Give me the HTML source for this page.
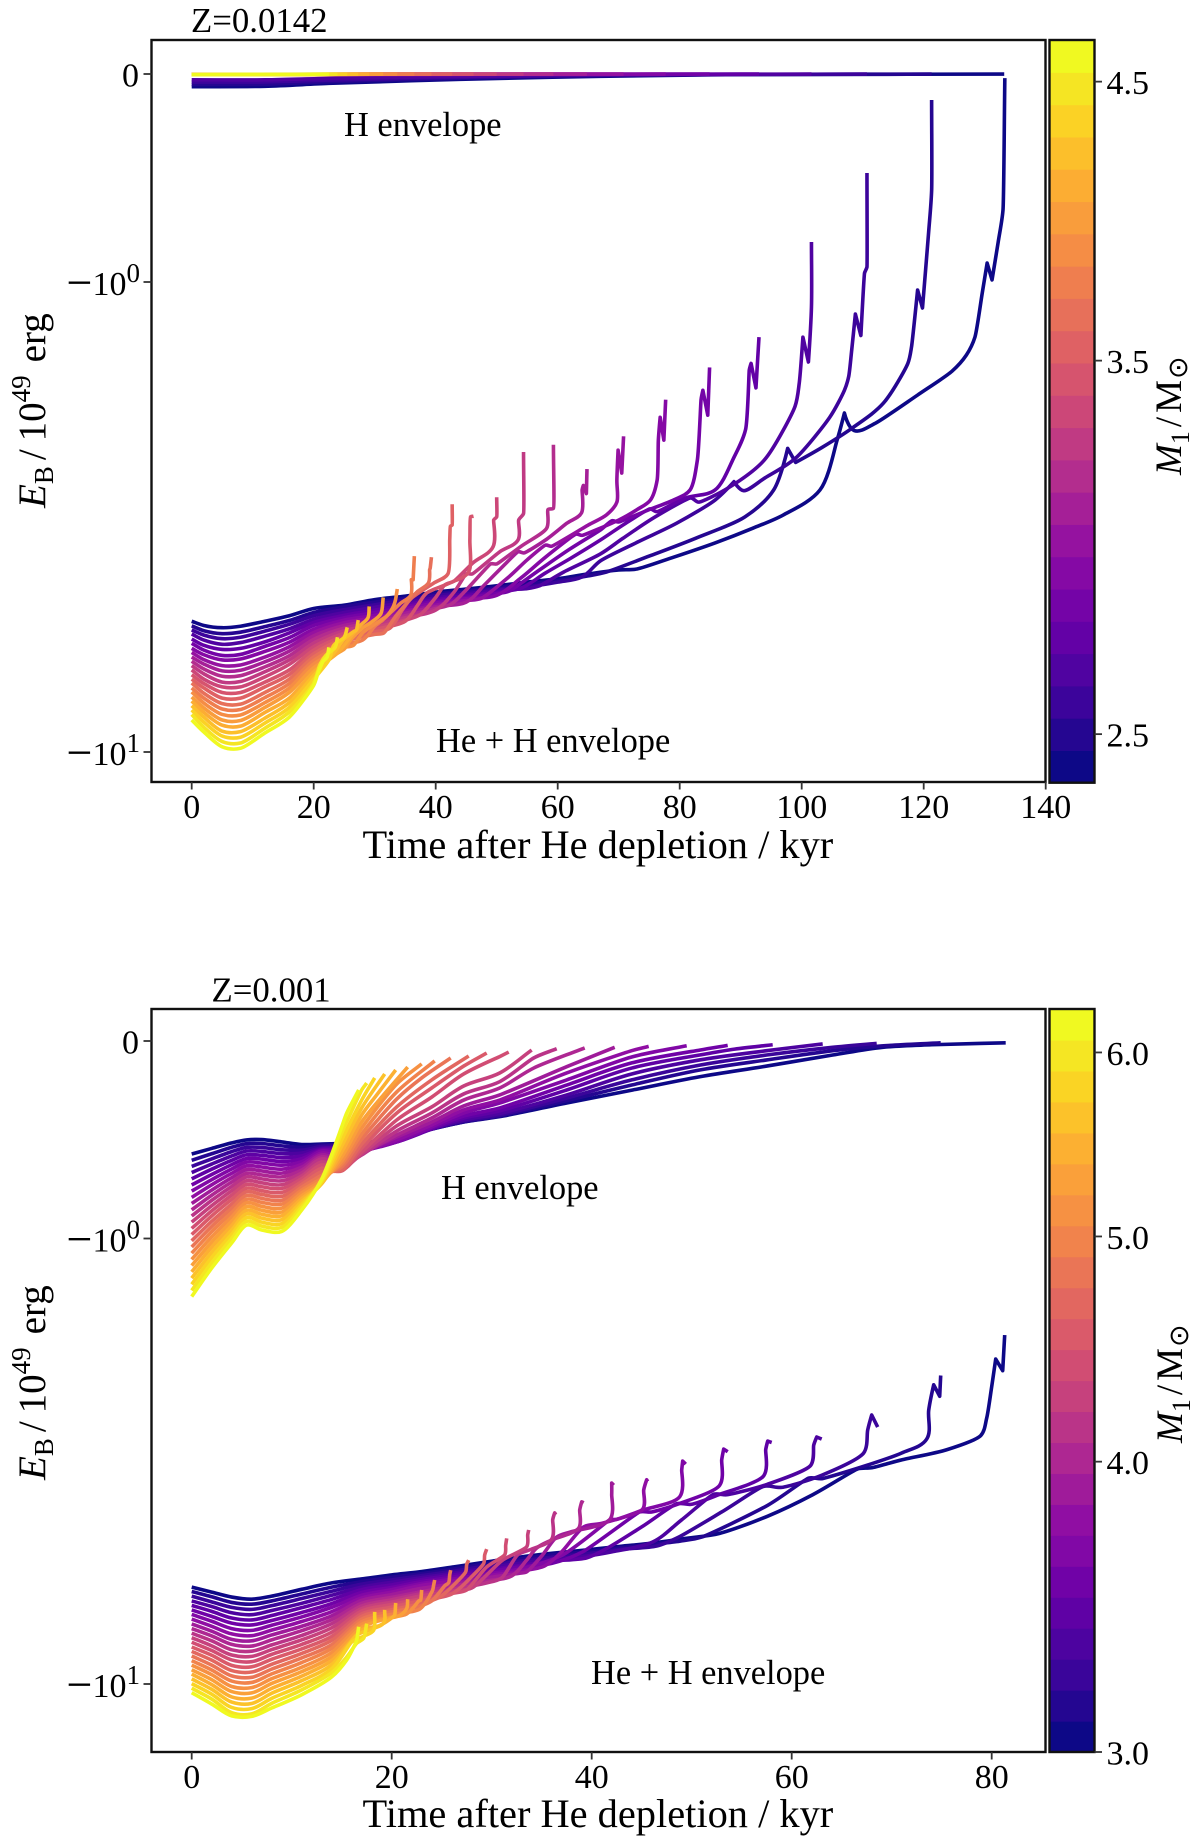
<!DOCTYPE html>
<html lang="en">
<head>
<meta charset="utf-8">
<title>Envelope binding energy after He depletion</title>
<style>
html,body{margin:0;padding:0;background:#fff;}
svg{display:block;}
text{font-family:"Liberation Serif","DejaVu Serif",serif;fill:#000;}
</style>
</head>
<body>
<svg id="figure" xmlns="http://www.w3.org/2000/svg" width="1200" height="1846" viewBox="0 0 1200 1846">
  <rect x="0" y="0" width="1200" height="1846" fill="#fff"/>

  <g id="panel-top">
    <g id="top-curves"></g>
    <rect x="151.5" y="40" width="894" height="742" fill="none" stroke="#111" stroke-width="2.4"/>
    <g id="top-ticks"></g>
    <text x="191" y="32" font-size="34.8">Z=0.0142</text>
    <text x="344" y="136" font-size="34.4">H envelope</text>
    <text x="436" y="752" font-size="34.4">He + H envelope</text>
    <text x="362.5" y="858" font-size="40.4">Time after He depletion / kyr</text>
    <text transform="translate(45,508) rotate(-90)" font-size="39"><tspan font-style="italic">E</tspan><tspan dy="8" font-size="27">B</tspan><tspan dy="-8" dx="6">/</tspan><tspan dx="8">10</tspan><tspan dy="-15" font-size="27">49</tspan><tspan dy="15" dx="13">erg</tspan></text>
    <g id="top-colorbar"></g>
    <text transform="translate(1181,475) rotate(-90)" font-size="37"><tspan font-style="italic">M</tspan><tspan dy="8" font-size="26">1</tspan><tspan dy="-8" dx="4">/</tspan><tspan dx="4">M</tspan><tspan dy="6" dx="1" font-size="27" style="font-family:'DejaVu Sans',sans-serif">⊙</tspan></text>
  </g>

  <g id="panel-bottom">
    <g id="bottom-curves"></g>
    <rect x="151.5" y="1009" width="894" height="743" fill="none" stroke="#111" stroke-width="2.4"/>
    <g id="bottom-ticks"></g>
    <text x="211.5" y="1001.5" font-size="34.8">Z=0.001</text>
    <text x="441" y="1199" font-size="34.4">H envelope</text>
    <text x="591" y="1684" font-size="34.4">He + H envelope</text>
    <text x="362.5" y="1827" font-size="40.4">Time after He depletion / kyr</text>
    <text transform="translate(45,1480) rotate(-90)" font-size="39"><tspan font-style="italic">E</tspan><tspan dy="8" font-size="27">B</tspan><tspan dy="-8" dx="6">/</tspan><tspan dx="8">10</tspan><tspan dy="-15" font-size="27">49</tspan><tspan dy="15" dx="13">erg</tspan></text>
    <g id="bottom-colorbar"></g>
    <text transform="translate(1182,1443) rotate(-90)" font-size="37"><tspan font-style="italic">M</tspan><tspan dy="8" font-size="26">1</tspan><tspan dy="-8" dx="4">/</tspan><tspan dx="4">M</tspan><tspan dy="6" dx="1" font-size="27" style="font-family:'DejaVu Sans',sans-serif">⊙</tspan></text>
  </g>
</svg>

<script>
/* ---------- tick data ---------- */
const topXTicks = [0,20,40,60,80,100,120,140];
const bottomXTicks = [0,20,40,60,80];
const energyTicks = [0,1,10];
const energyExponents = ['', '0', '1'];
const topMassTicks = [2.5,3.5,4.5];
const topMassTickLabels = ['2.5','3.5','4.5'];
const bottomMassTicks = [3,4,5,6];
const bottomMassTickLabels = ['3.0','4.0','5.0','6.0'];
const topMassLimits = [2.393,4.672];
const bottomMassLimits = [3.0,6.264];
const topBandCount = 23;
const bottomBandCount = 24;
const plasmaStops = ['#0d0887','#41049d','#6a00a8','#8f0da4','#b12a90','#cc4778','#e16462','#f2844b','#fca636','#fcce25','#f0f921'];

/* ---------- Z=0.0142, H envelope: time (kyr), |E_B| (10^49 erg) ---------- */
const topHTimes = [
[0,12,22.5,44,67,90,133.2],[0,12,22.5,44,67,90,121.3],[0,12,22.5,44,67,90,110.7],[0,12,22.5,44,67,90,101.6],
[0,93],[0,84.9],[0,77.7],[0,70.8],[0,64.8],[0,59.3],[0,54.4],[0,50],[0,46.2],[0,42.7],[0,39.3],[0,36.5],[0,33.7],[0,31.4],[0,29.1],[0,27.3],[0,25.5],[0,23.9],[0,22.5]
];
const topHEnergy = [
[.061,.059,.045,.0255,.011,.003,.0005],[.05,.049,.037,.02,.008,.002,.0005],[.039,.038,.029,.016,.006,.002,.0005],[.028,.028,.021,.012,.004,.001,.0005],
[.002,.0005],[.002,.0005],[.002,.0005],[.002,.0005],[.002,.0005],[.002,.0005],[.002,.0005],[.002,.0005],[.002,.0005],[.002,.0005],[.003,.0005],[.003,.0005],[.003,.0005],[.003,.0005],[.003,.001],[.003,.001],[.003,.001],[.003,.001],[.003,.001]
];

/* ---------- Z=0.0142, He + H envelope ---------- */
const topHeFanTimes = [0,2,5,8,12,16,20];
const topHeFanEnergy = [
[5.27,5.38,5.44,5.40,5.27,5.13,4.95],
[5.39,5.52,5.60,5.56,5.41,5.25,5.05],
[5.50,5.64,5.74,5.70,5.53,5.35,5.13],
[5.61,5.78,5.90,5.85,5.67,5.47,5.22],
[5.75,5.93,6.05,6.02,5.83,5.58,5.30],
[5.87,6.07,6.23,6.20,5.96,5.71,5.38],
[6.02,6.21,6.37,6.34,6.11,5.84,5.48],
[6.14,6.36,6.55,6.53,6.28,5.97,5.57],
[6.28,6.50,6.72,6.70,6.43,6.10,5.66],
[6.41,6.66,6.90,6.88,6.59,6.24,5.76],
[6.55,6.82,7.10,7.08,6.75,6.37,5.87],
[6.69,7.00,7.27,7.27,6.92,6.51,5.97],
[6.85,7.15,7.47,7.47,7.10,6.69,6.07],
[7.00,7.31,7.68,7.68,7.27,6.84,6.18],
[7.13,7.50,7.89,7.91,7.47,7.00,6.28],
[7.31,7.68,8.10,8.12,7.66,7.15,6.39],
[7.45,7.87,8.32,8.34,7.85,7.31,6.50],
[7.64,8.06,8.55,8.57,8.04,7.47,6.62],
[7.79,8.24,8.77,8.81,8.24,7.68,6.75],
[7.97,8.43,9.03,9.05,8.47,7.85,6.87],
[8.14,8.64,9.25,9.30,8.68,8.04,7.00],
[8.32,8.86,9.50,9.57,8.90,8.22,7.13],
[8.55,9.07,9.75,9.82,9.11,8.43,7.21]
];
const topHeTailTimes = [
[25,30,35,40,45,50,55,60,65,70,73,79,85.8,92,97,103,105.8,107,108.6,112,119,124.6,127,128.4,129.6,130.4,131.2,132.2,133,133.3],
[25,30,35,40,45,50,55,60,65,68,75,82.6,90.7,95.4,97.7,99,103.3,108.4,113.4,117.4,118,119,119.8,120.8,121.3,121.3],
[25,30,35,40,45,50,55,60,64,67,73.2,79.5,85.8,88.9,90.5,94,99,104.6,107,107.7,108.2,108.8,109.7,110.3,110.7,110.7],
[25,30,35,40,45,50,55,57,61,67,70.7,76,81.8,83.1,88,93.9,98.9,99.6,100.2,101.1,101.6,101.6],
[25,30,35,40,45,50,54,58,62,67,71,75.1,76.3,81,85.8,88.9,90.8,91.4,91.7,92.5,93],
[25,30,35,40,45,50,52,57,62,67,68.9,70,75,79,81.7,82.9,83.5,83.8,84.6,84.9],
[25,30,35,40,45,50,54,58,63,64,70,73,75.2,76.3,76.5,76.8,77.4,77.7],
[25,30,35,40,45,47.5,52,55,58,59,65,68,69.7,69.7,69.9,70.5,70.8],
[25,30,35,40,45,48,53.5,54.5,58,61.5,63.9,64,64.2,64.7,64.8],
[25,30,35,40,42.5,45,49,50,54,58.2,58.4,59.3,59.3],
[25,30,35,40,43,45,46,50.5,53.5,53.6,54.4,54.4],
[25,30,35,37.5,40,41.5,43,46.1,49.4,49.5,50,50],
[25,30,35,37,38.5,42.3,45.4,45.6,45.7,46.2],
[25,30,32.5,34.5,36,39.7,42,42.3,42.4,42.7,42.7],
[25,30,31.5,33.5,36.9,38.8,39,39.1,39.3],
[25,28,30,31.3,34.2,35.9,36,36.3,36.5],
[25,26.5,28,29.5,32,33,33.4,33.7],
[25,26,28,29.4,31,31.4],
[24,26,27.7,28.9,29.1],
[23,25,26.5,27,27.3],
[22.5,23.3,25,25.5],
[21,22,23.5,23.9],
[20.7,21.5,22.2,22.5]
];
const topHeTailEnergy = [
[4.87,4.74,4.66,4.57,4.50,4.43,4.35,4.28,4.18,4.10,4.08,3.85,3.59,3.34,3.13,2.77,2.17,1.90,2.07,2.0,1.74,1.55,1.43,1.31,1.055,.909,.99,.81,.654,.02],
[4.91,4.80,4.71,4.61,4.54,4.47,4.39,4.32,4.22,4.14,3.83,3.51,3.16,2.77,2.26,2.42,2.25,2.04,1.81,1.49,1.375,1.04,1.136,.764,.56,.125],
[4.98,4.86,4.75,4.65,4.57,4.50,4.45,4.35,4.24,3.92,3.57,3.26,2.91,2.66,2.78,2.61,2.37,1.94,1.70,1.59,1.395,1.17,1.30,.957,.928,.476],
[5.05,4.92,4.81,4.70,4.61,4.53,4.49,4.43,4.14,3.79,3.51,3.16,2.88,2.94,2.74,2.39,1.84,1.64,1.31,1.48,1.13,.808],
[5.12,4.99,4.86,4.74,4.65,4.57,4.48,4.16,3.88,3.54,3.27,3.04,3.08,2.88,2.77,2.36,2.06,1.54,1.49,1.68,1.31],
[5.18,5.05,4.91,4.78,4.69,4.60,4.55,4.10,3.70,3.37,3.22,3.24,3.05,2.91,2.77,2.39,1.78,1.70,1.92,1.52],
[5.24,5.12,4.96,4.82,4.72,4.64,4.26,3.85,3.44,3.46,3.21,3.05,2.91,2.64,2.17,1.94,2.17,1.78],
[5.31,5.18,5.02,4.87,4.76,4.71,4.24,3.90,3.63,3.65,3.29,3.13,2.94,2.64,2.28,2.55,2.13],
[5.38,5.25,5.07,4.91,4.80,4.41,3.75,3.77,3.54,3.26,3.10,2.77,2.71,2.82,2.50],
[5.45,5.30,5.13,4.95,4.85,4.52,3.98,3.98,3.65,3.34,3.05,3.03,2.22],
[5.52,5.36,5.18,4.99,4.57,4.18,4.18,3.75,3.54,3.21,3.11,2.30],
[5.59,5.43,5.24,5.10,4.69,4.41,4.33,3.96,3.66,3.21,3.16,2.87],
[5.67,5.49,5.27,4.88,4.59,4.37,4.14,3.54,3.16,3.15],
[5.74,5.55,5.45,4.99,4.71,4.37,4.18,3.54,3.31,3.29,2.97],
[5.82,5.62,5.58,5.13,4.57,4.37,4.10,4.06,3.85],
[5.90,5.78,5.40,5.24,4.83,4.64,4.30,4.30,3.83],
[5.99,5.93,5.58,5.40,5.13,4.92,4.75,4.50],
[6.04,5.78,5.45,5.30,5.08,4.69],
[6.14,5.70,5.37,5.18,4.90],
[6.23,5.75,5.55,5.50,5.24],
[6.37,5.93,5.70,5.43],
[6.53,6.23,5.99,5.70],
[6.80,6.43,6.28,5.99]
];

/* ---------- Z=0.001, H envelope ---------- */
const bottomHFanTimes = [0,2,4,5.5,7,9,11,13];
const bottomHFanEnergy = [
[.572,.544,.516,.501,.499,.511,.524,.522],
[.604,.571,.538,.520,.519,.531,.538,.527],
[.635,.597,.560,.539,.539,.551,.553,.534],
[.666,.623,.582,.557,.559,.570,.567,.542],
[.698,.649,.604,.576,.579,.590,.582,.547],
[.729,.676,.626,.595,.598,.610,.596,.552],
[.760,.702,.648,.613,.618,.629,.611,.557],
[.792,.728,.670,.632,.638,.649,.625,.567],
[.823,.755,.692,.651,.658,.669,.639,.577],
[.855,.781,.714,.670,.678,.688,.654,.587],
[.886,.807,.736,.688,.698,.708,.668,.597],
[.917,.834,.758,.707,.718,.728,.683,.613],
[.949,.860,.780,.726,.738,.747,.697,.628],
[.980,.886,.802,.745,.758,.767,.712,.645],
[1.012,.913,.825,.763,.777,.787,.726,.662],
[1.045,.939,.847,.782,.797,.807,.740,.680],
[1.079,.965,.869,.801,.817,.826,.755,.695],
[1.114,.992,.891,.819,.837,.846,.769,.705],
[1.150,1.019,.913,.838,.857,.866,.784,.716],
[1.188,1.046,.935,.857,.877,.885,.798,.722],
[1.227,1.075,.957,.875,.897,.905,.813,.722],
[1.267,1.104,.979,.894,.917,.925,.827,.716],
[1.308,1.134,1.0,.913,.937,.944,.841,.709],
[1.350,1.165,1.023,.932,.957,.964,.856,.699]
];
const bottomHTailTimes = [
[15,17,20.5,24,27.2,30.8,37.5,44.1,50.8,57.5,64.1,69.1,74,81.4],
[15,17,20.5,24,27.2,30.8,37.5,44,50.8,57.5,64.1,69,74.9],
[15,17,20.5,24,27.2,30.8,37.5,44,50.8,57.5,64.1,68.5],
[15,17,20.5,24,27.2,30.8,37.5,44,50.8,57.5,63.1],
[15,17,20.5,24,27.2,30.8,37.5,44,50.8,54.3,58.1],
[15,17,20.5,24,27.2,30.8,37.5,44,50.8,53.6],
[15,17,20.5,24,27.2,30.8,37.5,44,49.5],
[15,17,20.5,24,27.2,30.8,37.5,44,45.7],
[15,17,20.5,24,27.2,30.8,37.5,42.3],
[15,17,20.5,24,27.2,30.8,34.2,39.3],
[15,17,20.5,24,27.2,30.8,34.2,36.5],
[15,17,20.5,24,27.2,30.8,34],
[15,17,20.5,24,27.2,30.8,31.7],
[15,17,20.5,24,27.2,29.5],
[15,17,20.5,24,27.7],
[15,17,20.5,23,25.9],
[15,17,20.5,24.3],
[15,17,20.5,23],
[15,17,19,21.6],
[15,17,18.5,20.4],
[15,17,19.3],
[15,17,18.3],
[15,17,17.5],
[15,15.5,16.7]
];
const bottomHTailEnergy = [
[.519,.516,.491,.446,.410,.383,.314,.248,.181,.127,.071,.032,.019,.009],
[.527,.527,.496,.446,.410,.380,.302,.223,.147,.096,.049,.025,.009],
[.534,.534,.501,.446,.405,.375,.289,.197,.122,.071,.032,.012],
[.542,.542,.506,.446,.400,.367,.273,.167,.096,.049,.015],
[.547,.547,.511,.446,.390,.354,.248,.137,.071,.041,.019],
[.557,.552,.511,.441,.380,.339,.223,.111,.046,.022],
[.572,.557,.511,.435,.365,.314,.197,.081,.024],
[.587,.562,.501,.425,.349,.299,.162,.049,.027],
[.603,.567,.486,.410,.329,.273,.130,.032],
[.613,.572,.476,.390,.299,.238,.137,.035],
[.628,.577,.456,.365,.268,.206,.086,.039],
[.643,.572,.430,.334,.228,.162,.046],
[.653,.562,.400,.284,.167,.079,.056],
[.658,.542,.365,.238,.127,.061],
[.653,.522,.334,.197,.076],
[.638,.496,.294,.187,.086],
[.623,.471,.258,.101],
[.608,.441,.218,.116],
[.587,.410,.284,.132],
[.562,.375,.273,.147],
[.532,.339,.167],
[.501,.299,.187],
[.466,.248,.213],
[.435,.365,.248]
];

/* ---------- Z=0.001, He + H envelope ---------- */
const bottomHeFanTimes = [0,2,4,6,8,11,14];
const bottomHeFanEnergy = [
[6.06,6.22,6.38,6.45,6.35,6.13,5.93],
[6.20,6.37,6.56,6.62,6.51,6.28,6.06],
[6.35,6.54,6.73,6.80,6.67,6.43,6.19],
[6.51,6.70,6.92,6.99,6.84,6.59,6.32],
[6.66,6.87,7.11,7.18,7.02,6.74,6.46],
[6.82,7.05,7.30,7.37,7.20,6.91,6.60],
[6.98,7.23,7.51,7.58,7.38,7.07,6.73],
[7.15,7.42,7.72,7.79,7.57,7.24,6.88],
[7.33,7.61,7.94,8.00,7.76,7.42,7.03],
[7.51,7.80,8.15,8.22,7.96,7.59,7.17],
[7.69,8.00,8.38,8.44,8.17,7.78,7.32],
[7.87,8.21,8.61,8.67,8.37,7.96,7.48],
[8.06,8.41,8.83,8.91,8.58,8.15,7.65],
[8.26,8.62,9.08,9.15,8.80,8.34,7.82],
[8.45,8.84,9.33,9.40,9.03,8.54,7.98],
[8.65,9.07,9.59,9.66,9.26,8.74,8.16],
[8.86,9.30,9.85,9.92,9.49,8.95,8.32],
[9.07,9.53,10.13,10.19,9.73,9.17,8.50],
[9.29,9.78,10.40,10.47,9.97,9.38,8.68],
[9.50,10.03,10.69,10.76,10.23,9.60,8.86],
[9.74,10.28,10.98,11.06,10.49,9.83,9.05],
[9.98,10.54,11.29,11.36,10.77,10.07,9.24],
[10.22,10.81,11.60,11.67,11.05,10.31,9.43],
[10.46,11.09,11.79,11.82,11.32,10.57,9.64]
];
const bottomHeTailTimes = [
[17,20,22.8,26.2,29.5,32.8,36,39.5,42.8,46,49.5,52.8,57.6,62.1,66.6,68,71,75.5,78.9,79.5,80,80.4,81.1,81.3],
[17,20,22.8,26.2,29.5,32.8,36,39.5,42.8,46,48.8,51,57.6,61.7,63,67.5,71,73.5,73.7,74.2,74.8,74.9],
[17,20,22.8,26.2,29.5,32.8,36,39.5,42.8,46.5,48.7,53,57.2,59,63,67.2,67.6,68,68.6],
[17,20,22.8,26.2,29.5,32.8,36,39.5,42,46.1,49,52.2,53.5,57.6,61.9,62.2,62.5,63],
[17,20,22.8,26.2,29.5,32.8,36,39.5,41.6,45,48.5,50,52.7,57.2,57.4,57.6,58],
[17,20,22.8,26.2,29.5,32.8,36,39.1,44.8,46,48.7,52.8,53,53.2,53.6],
[17,20,22.8,26.2,29.5,32.8,37.1,41.8,42.5,45.1,48.8,49,49.1,49.4],
[17,20,22.8,26.2,29.5,32.8,35.3,37,39.2,41,45.1,45.2,45.5,45.6],
[17,20,22.8,26.2,29.5,32.8,33.5,35,36.5,38,41.8,42,42,42.2],
[17,20,22.8,26.2,29.5,32,33.5,34.5,36,38.7,38.8,39,39.2],
[17,20,22.8,26.2,29.5,31,32.6,34,36,36.1,36.3,36.4],
[17,20,22.8,26.2,28,29.5,31.1,33.5,33.6,33.7],
[17,20,22.8,26.2,27.5,29.5,31.3,31.4,31.5],
[17,20,22.8,26,28,29.2,29.3,29.5],
[17,20,22.8,24.8,26.7,27.4,27.5,27.7],
[17,20,22.8,24,25.3,25.7,25.8,25.9],
[17,20,22.8,23.9,24.1,24.2,24.3],
[17,20,21.5,22.7,22.9,23],
[17,19.5,20.8,21.5,21.6],
[17,18.8,20,20.3,20.4],
[16.5,18,19.2,19.3],
[16,17.2,18.2,18.3],
[15.5,16.5,17.2,17.5],
[15.5,16.2,16.5,16.7]
];
const bottomHeTailEnergy = [
[5.81,5.69,5.60,5.46,5.32,5.19,5.09,5.0,4.91,4.83,4.71,4.59,4.20,3.76,3.29,3.27,3.14,2.98,2.77,2.53,2.15,1.865,1.98,1.647],
[5.89,5.76,5.66,5.52,5.37,5.24,5.13,5.05,4.95,4.86,4.78,4.68,3.97,3.45,3.46,3.23,3.03,2.82,2.43,2.13,2.26,2.03],
[5.97,5.84,5.72,5.58,5.43,5.30,5.19,5.10,4.99,4.90,4.68,4.11,3.60,3.62,3.40,3.03,2.69,2.49,2.65],
[6.06,5.91,5.78,5.64,5.49,5.36,5.24,5.16,5.05,4.80,4.28,3.75,3.76,3.56,3.23,2.91,2.79,2.82],
[6.14,5.99,5.84,5.69,5.55,5.42,5.30,5.21,4.95,4.44,3.94,3.95,3.76,3.41,2.98,2.85,2.87],
[6.23,6.07,5.90,5.75,5.60,5.46,5.36,5.05,4.11,4.11,3.94,3.58,3.14,2.97,3.01],
[6.32,6.14,5.96,5.81,5.66,5.52,5.13,4.28,4.27,4.07,3.80,3.31,3.16,3.21],
[6.41,6.22,6.02,5.87,5.72,5.58,5.43,5.05,4.44,4.36,4.05,3.67,3.48,3.51],
[6.49,6.30,6.11,5.96,5.78,5.64,5.60,5.16,4.68,4.55,4.28,3.76,3.54,3.58],
[6.59,6.39,6.22,6.02,5.87,5.72,5.27,4.95,4.75,4.47,4.07,3.90,3.92],
[6.68,6.47,6.28,6.12,5.93,5.78,5.13,4.98,4.73,4.28,4.13,4.17],
[6.77,6.55,6.35,6.18,6.09,5.69,5.27,4.92,4.63,4.51],
[6.86,6.63,6.45,6.25,6.15,5.46,5.13,4.88,4.71],
[6.96,6.72,6.51,6.28,5.74,5.36,5.13,4.98],
[7.05,6.81,6.61,6.38,5.84,5.60,5.39,5.27],
[7.15,6.89,6.69,6.51,6.02,5.92,5.69,5.55],
[7.25,6.98,6.79,6.28,6.15,5.99,5.84],
[7.35,7.07,6.96,6.51,6.48,6.15],
[7.46,7.14,7.02,6.77,6.45],
[7.56,7.39,7.11,7.00,6.58],
[7.77,7.53,7.29,6.82],
[8.05,7.81,7.57,6.89],
[8.70,8.10,7.89,7.32],
[8.83,8.26,7.97,7.44]
];

/* ---------- helpers ---------- */
const SVG_NS = 'http://www.w3.org/2000/svg';

function plasma(f) {
  const p = Math.max(0, Math.min(1, f)) * (plasmaStops.length - 1);
  const a = Math.floor(p), b = Math.min(a + 1, plasmaStops.length - 1), k = p - a;
  const parse = h => [1, 3, 5].map(s => parseInt(h.substr(s, 2), 16));
  const ca = parse(plasmaStops[a]), cb = parse(plasmaStops[b]);
  return 'rgb(' + ca.map((v, i) => Math.round(v + (cb[i] - v) * k)).join(',') + ')';
}

/* axis functions */
const xTop = t => 191.7 + 6.1 * t;
const xBottom = t => 191.7 + 10 * t;
function symlogY(e, zeroY, unitY, decade) {
  return e <= 1 ? zeroY + (unitY - zeroY) * e : unitY + decade * Math.log10(e);
}
const yTop = e => symlogY(e, 74, 282, 470);
const yBottom = e => symlogY(e, 1041, 1238.5, 445.5);

/* Smooth path through the points; sharp reversals stay as corners and
   control handles are limited by the shorter neighbouring segment so
   long vertical runs do not bow. */
function curvePath(fanT, fanE, tailT, tailE, xf, yf) {
  const fan = fanT.map((t, j) => [xf(t), yf(fanE[j])]);
  const tail = tailT.map((t, j) => [xf(t), yf(tailE[j])]);
  const pts = fan.concat(tail);
  const n = pts.length;
  const handles = pts.map((p, j) => {
    const prev = pts[Math.max(j - 1, 0)], next = pts[Math.min(j + 1, n - 1)];
    const ax = p[0] - prev[0], ay = p[1] - prev[1], bx = next[0] - p[0], by = next[1] - p[1];
    const la = Math.hypot(ax, ay), lb = Math.hypot(bx, by);
    if (la < 1e-6 && lb < 1e-6) return [0, 0];
    if (la < 1e-6) return [bx / 3, by / 3];
    if (lb < 1e-6) return [ax / 3, ay / 3];
    const ua = [ax / la, ay / la], ub = [bx / lb, by / lb];
    if (ua[0] * ub[0] + ua[1] * ub[1] < 0.15) return [0, 0];
    const sx = ua[0] + ub[0], sy = ua[1] + ub[1], ls = Math.hypot(sx, sy);
    const h = Math.min(la, lb) / 3;
    return [sx / ls * h, sy / ls * h];
  });
  let d = 'M' + pts[0][0].toFixed(2) + ' ' + pts[0][1].toFixed(2);
  for (let j = 0; j < n - 1; j++) {
    const a = pts[j], b = pts[j + 1];
    d += 'C' + (a[0] + handles[j][0]).toFixed(2) + ' ' + (a[1] + handles[j][1]).toFixed(2) + ' ' +
      (b[0] - handles[j + 1][0]).toFixed(2) + ' ' + (b[1] - handles[j + 1][1]).toFixed(2) + ' ' +
      b[0].toFixed(2) + ' ' + b[1].toFixed(2);
  }
  return d;
}

function drawFamily(parent, label, fanT, fanE, tailT, tailE, xf, yf) {
  const n = tailT.length;
  for (let i = 0; i < n; i++) {
    const path = document.createElementNS(SVG_NS, 'path');
    
    
    path.setAttribute('d', curvePath(fanT, fanE[i] || [], tailT[i], tailE[i], xf, yf));
    path.setAttribute('fill', 'none');
    path.setAttribute('stroke', plasma(i / (n - 1)));
    path.setAttribute('stroke-width', '3.6');
    path.setAttribute('stroke-linejoin', 'round');
    parent.appendChild(path);
  }
}

function tickLine(parent, x1, y1, x2, y2, name) {
  const line = document.createElementNS(SVG_NS, 'line');
  
  
  line.setAttribute('x1', x1);
  line.setAttribute('y1', y1);
  line.setAttribute('x2', x2);
  line.setAttribute('y2', y2);
  line.setAttribute('stroke', '#333');
  line.setAttribute('stroke-width', '1.8');
  parent.appendChild(line);
}

function tickText(parent, x, y, anchor, content, name) {
  const text = document.createElementNS(SVG_NS, 'text');
  
  
  text.setAttribute('x', x);
  text.setAttribute('y', y);
  text.setAttribute('text-anchor', anchor);
  text.setAttribute('font-size', '34');
  text.textContent = content;
  parent.appendChild(text);
  return text;
}

function energyLabel(parent, y, exponent) {
  const label = tickText(parent, 140, y + 13, 'end', '', 'y-tick-label');
  const minus = document.createElementNS(SVG_NS, 'tspan');
  
  
  minus.setAttribute('font-size', '46');
  minus.setAttribute('dy', '3');
  minus.textContent = '\u2212';
  label.appendChild(minus);
  const base = document.createElementNS(SVG_NS, 'tspan');
  
  
  base.setAttribute('dy', '-3');
  base.textContent = '10';
  label.appendChild(base);
  const sup = document.createElementNS(SVG_NS, 'tspan');
  
  
  sup.setAttribute('dy', '-13');
  sup.setAttribute('font-size', '27');
  sup.textContent = exponent;
  label.appendChild(sup);
}

function drawAxes(parent, xTicks, xf, yf, axisBottom) {
  xTicks.forEach(v => {
    tickLine(parent, xf(v), axisBottom, xf(v), axisBottom + 7.5, 'x-tick');
    tickText(parent, xf(v), axisBottom + 36, 'middle', String(v), 'x-tick-label');
  });
  energyTicks.forEach((v, k) => {
    const y = yf(v);
    tickLine(parent, 143.5, y, 151.5, y, 'y-tick');
    if (energyExponents[k]) {
      energyLabel(parent, y, energyExponents[k]);
    } else {
      tickText(parent, 139, y + 12.5, 'end', '0', 'y-tick-label');
    }
  });
}

function drawColorbar(parent, limits, bandCount, ticks, labels, top, bottom) {
  const left = 1049.5, right = 1094.5;
  const bandH = (bottom - top) / bandCount;
  const yMass = m => bottom - (bottom - top) * Math.log(m / limits[0]) / Math.log(limits[1] / limits[0]);
  for (let i = 0; i < bandCount; i++) {
    const band = document.createElementNS(SVG_NS, 'rect');
    
    
    band.setAttribute('x', left);
    band.setAttribute('y', (bottom - (i + 1) * bandH).toFixed(2));
    band.setAttribute('width', right - left);
    band.setAttribute('height', (bandH + 0.6).toFixed(2));
    band.setAttribute('fill', plasma(i / (bandCount - 1)));
    parent.appendChild(band);
  }
  const frame = document.createElementNS(SVG_NS, 'rect');
  
  
  frame.setAttribute('x', left);
  frame.setAttribute('y', top);
  frame.setAttribute('width', right - left);
  frame.setAttribute('height', bottom - top);
  frame.setAttribute('fill', 'none');
  frame.setAttribute('stroke', '#111');
  frame.setAttribute('stroke-width', '2.4');
  parent.appendChild(frame);
  ticks.forEach((m, k) => {
    const y = yMass(m);
    tickLine(parent, right, y, right + 7.5, y, 'colorbar-tick');
    tickText(parent, 1106.5, y + 12.5, 'start', labels[k], 'colorbar-tick-label');
  });
}

/* ---------- draw ---------- */
const topCurves = document.getElementById('top-curves');
const bottomCurves = document.getElementById('bottom-curves');
drawFamily(topCurves, 'top-h-envelope', [], [], topHTimes, topHEnergy, xTop, yTop);
drawFamily(topCurves, 'top-he-h-envelope', topHeFanTimes, topHeFanEnergy, topHeTailTimes, topHeTailEnergy, xTop, yTop);
drawFamily(bottomCurves, 'bottom-h-envelope', bottomHFanTimes, bottomHFanEnergy, bottomHTailTimes, bottomHTailEnergy, xBottom, yBottom);
drawFamily(bottomCurves, 'bottom-he-h-envelope', bottomHeFanTimes, bottomHeFanEnergy, bottomHeTailTimes, bottomHeTailEnergy, xBottom, yBottom);
drawAxes(document.getElementById('top-ticks'), topXTicks, xTop, yTop, 782);
drawAxes(document.getElementById('bottom-ticks'), bottomXTicks, xBottom, yBottom, 1752);
drawColorbar(document.getElementById('top-colorbar'), topMassLimits, topBandCount, topMassTicks, topMassTickLabels, 40, 782.7);
drawColorbar(document.getElementById('bottom-colorbar'), bottomMassLimits, bottomBandCount, bottomMassTicks, bottomMassTickLabels, 1009, 1752);
</script>
</body>
</html>
